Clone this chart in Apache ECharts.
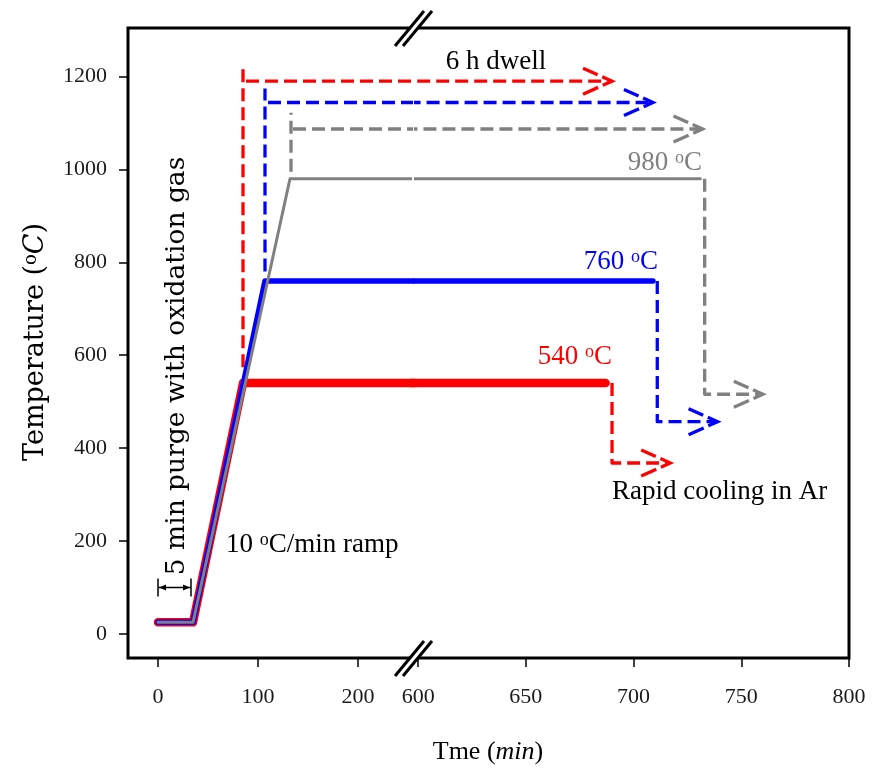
<!DOCTYPE html>
<html><head><meta charset="utf-8">
<script src="https://cdn.jsdelivr.net/npm/echarts@6/dist/echarts.min.js"></script>
<style>html,body{margin:0;padding:0;background:#fff}#c{width:878px;height:773px}</style>
</head><body><div id="c"></div>
<script>
// ---- axis ticks ----
const leftTicks = [0, 100, 200];
const rightTicks = [600, 650, 700, 750, 800];
const yTicks = [0, 200, 400, 600, 800, 1000, 1200];

// ---- heating profiles (time min, temperature °C) ----
const t540 = [0, 35, 85, 687];
const y540 = [25, 25, 540, 540];
const t760 = [0, 35, 107, 709];
const y760 = [25, 25, 760, 760];
const t980 = [0, 35, 132, 731];
const y980 = [25, 25, 980, 980];

// ---- 6 h dwell markers (order: 540, 760, 980) ----
const dwellVT  = [85, 107, 133];
const dwellVY0 = [574, 780, 995];
const dwellVY1 = [1221, 1174, 1122];
const dwellHT0 = [88, 110, 135];
const dwellHT1 = [690, 709, 732];
const dwellHY  = [1190, 1144, 1087];

// ---- rapid cooling paths ----
const coolT    = [690, 711, 733];
const coolY0   = [540, 760, 980];
const coolY1   = [368, 457, 516];
const coolTEnd = [717, 739, 760];

// ---- purge marker ----
const purgeT = [0, 33];
const purgeLevel = 100;

const RED = '#ff0000', BLUE = '#0000ff', GRAY = '#808080';
const COLORS = [RED, BLUE, GRAY];
const FONT = 'Liberation Serif';
const FONT2 = 'DejaVu Serif';
const DASH = [13, 6];

const zip = (a, b) => a.map((v, i) => [v, b[i]]);

function line(g, data, color, width, dash, z) {
  return {
    type: 'line', xAxisIndex: g, yAxisIndex: g, data: data,
    showSymbol: false, symbol: 'none', silent: true, clip: true, z: z,
    lineStyle: { color: color, width: width, type: dash || 'solid',
      cap: dash ? 'butt' : 'round', join: 'round' }
  };
}

const series = [];
const profiles = [[t540, y540, RED, 8.5], [t760, y760, BLUE, 5.5], [t980, y980, GRAY, 3]];
[0, 1].forEach(g => {
  profiles.forEach(([t, y, c, w], k) => series.push(line(g, zip(t, y), c, w, null, 3 + k)));
  for (let i = 0; i < 3; i++) {
    series.push(line(g, zip([dwellVT[i], dwellVT[i]], [dwellVY0[i], dwellVY1[i]]), COLORS[i], 3.3, DASH, 2));
    series.push(line(g, zip([dwellHT0[i], dwellHT1[i]], [dwellHY[i], dwellHY[i]]), COLORS[i], 3.3, DASH, 2));
    series.push(line(g, zip([coolT[i], coolT[i], coolTEnd[i]], [coolY0[i], coolY1[i], coolY1[i]]), COLORS[i], 3.3, DASH, 2));
  }
});

// arrow heads (open, dashed chevrons)
const arrowData = [];
for (let i = 0; i < 3; i++) {
  arrowData.push([dwellHT1[i], dwellHY[i], i]);
  arrowData.push([coolTEnd[i], coolY1[i], i]);
}
series.push({
  type: 'custom', xAxisIndex: 1, yAxisIndex: 1, data: arrowData, silent: true, z: 6,
  renderItem: function (params, api) {
    const p = api.coord([api.value(0), api.value(1)]);
    return {
      type: 'polyline',
      shape: { points: [[p[0] - 29, p[1] - 13], [p[0], p[1]], [p[0] - 29, p[1] + 13]] },
      style: { stroke: COLORS[api.value(2)], lineWidth: 3.3, fill: null, lineDash: [16, 5, 21, 5, 20, 20] }
    };
  }
});

// purge bracket
series.push({
  type: 'custom', xAxisIndex: 0, yAxisIndex: 0, data: [[purgeT[0], purgeT[1], purgeLevel]], silent: true, z: 6,
  renderItem: function (params, api) {
    const a = api.coord([api.value(0), api.value(2)]);
    const b = api.coord([api.value(1), api.value(2)]);
    const st = { stroke: '#000', lineWidth: 1.5, fill: null };
    return {
      type: 'group', children: [
        { type: 'line', shape: { x1: a[0], y1: a[1], x2: b[0], y2: b[1] }, style: st },
        { type: 'line', shape: { x1: a[0], y1: a[1] - 9, x2: a[0], y2: a[1] + 9 }, style: st },
        { type: 'line', shape: { x1: b[0], y1: b[1] - 9, x2: b[0], y2: b[1] + 9 }, style: st },
        { type: 'polygon', shape: { points: [[a[0] + 1, a[1]], [a[0] + 8, a[1] - 3], [a[0] + 8, a[1] + 3]] }, style: { fill: '#000' } },
        { type: 'polygon', shape: { points: [[b[0] - 1, b[1]], [b[0] - 8, b[1] - 3], [b[0] - 8, b[1] + 3]] }, style: { fill: '#000' } }
      ]
    };
  }
});

const tickStyle = { show: true, inside: false, length: 9, lineStyle: { color: '#000', width: 1.5 } };
const labelStyle = { fontFamily: FONT, fontSize: 22, color: '#1a1a1a', formatter: v => String(v) };

function xAxis(g, min, max, ticks) {
  return {
    type: 'value', gridIndex: g, min: min, max: max, position: 'bottom',
    axisLine: { show: false, onZero: false }, splitLine: { show: false },
    axisTick: Object.assign({ customValues: ticks }, tickStyle),
    axisLabel: Object.assign({ customValues: ticks, margin: 28 }, labelStyle)
  };
}

function richText(x, y, text, color, size, align, extra, fam) {
  const f = fam || FONT;
  return Object.assign({
    type: 'text', x: x, y: y, z: 20, silent: true,
    style: {
      text: text, fill: color, align: align || 'left', verticalAlign: 'middle',
      rich: {
        a: { fontFamily: f, fontSize: size, lineHeight: size, fill: color },
        i: { fontFamily: f, fontSize: size, lineHeight: size, fontStyle: 'italic', fill: color },
        s: { fontFamily: f, fontSize: Math.round(size * 0.65), verticalAlign: 'top', lineHeight: Math.round(size * 0.45), fill: color }
      }
    }
  }, extra || {});
}

const breakMark = (cy) => ([
  { type: 'polygon', z: 30, silent: true, shape: { points: [[395, cy + 18], [424, cy - 17], [432, cy - 17], [403, cy + 18]] }, style: { fill: '#fff' } },
  { type: 'line', z: 31, silent: true, shape: { x1: 395, y1: cy + 18, x2: 424, y2: cy - 17 }, style: { stroke: '#000', lineWidth: 3 } },
  { type: 'line', z: 31, silent: true, shape: { x1: 403, y1: cy + 18, x2: 432, y2: cy - 17 }, style: { stroke: '#000', lineWidth: 3 } }
]);

const option = {
  animation: false,
  backgroundColor: '#fff',
  grid: [
    { left: 128, top: 28, width: 282, height: 630 },
    { left: 416, top: 28, width: 433, height: 630 }
  ],
  xAxis: [xAxis(0, -30, 252, leftTicks), xAxis(1, 599, 800, rightTicks)],
  yAxis: [
    {
      type: 'value', gridIndex: 0, min: -51.7, max: 1304.4, position: 'left',
      axisLine: { show: false, onZero: false }, splitLine: { show: false },
      axisTick: Object.assign({ customValues: yTicks }, tickStyle),
      axisLabel: Object.assign({ customValues: yTicks, margin: 21 }, labelStyle)
    },
    { type: 'value', gridIndex: 1, min: -51.7, max: 1304.4, show: false }
  ],
  series: series,
  graphic: [
    { type: 'rect', z: 10, silent: true, shape: { x: 128, y: 28, width: 721, height: 630 }, style: { fill: null, stroke: '#000', lineWidth: 3 } },
    ...breakMark(28),
    ...breakMark(658),
    richText(496, 62, '{a|6 h dwell}', '#000', 27, 'center'),
    richText(702, 163, '{a|980 }{s|o}{a|C}', GRAY, 27, 'right'),
    richText(658, 262, '{a|760 }{s|o}{a|C}', BLUE, 27, 'right'),
    richText(612, 357, '{a|540 }{s|o}{a|C}', RED, 27, 'right'),
    richText(612, 492, '{a|Rapid cooling in Ar}', '#000', 27, 'left'),
    richText(226, 545, '{a|10 }{s|o}{a|C/min ramp}', '#000', 27, 'left'),
    richText(177, 366, '{a|5 min purge with oxidation gas}', '#000', 26.5, 'center', { rotation: Math.PI / 2 }, FONT2),
    richText(36, 342, '{a|Temperature (}{s|o}{i|C}{a|)}', '#000', 27, 'center', { rotation: Math.PI / 2 }, FONT2),
    richText(488, 752, '{a|Tme (}{i|min}{a|)}', '#000', 26, 'center')
  ]
};

const chart = echarts.init(document.getElementById('c'), null, { renderer: 'canvas' });
chart.setOption(option);
</script>
</body></html>
